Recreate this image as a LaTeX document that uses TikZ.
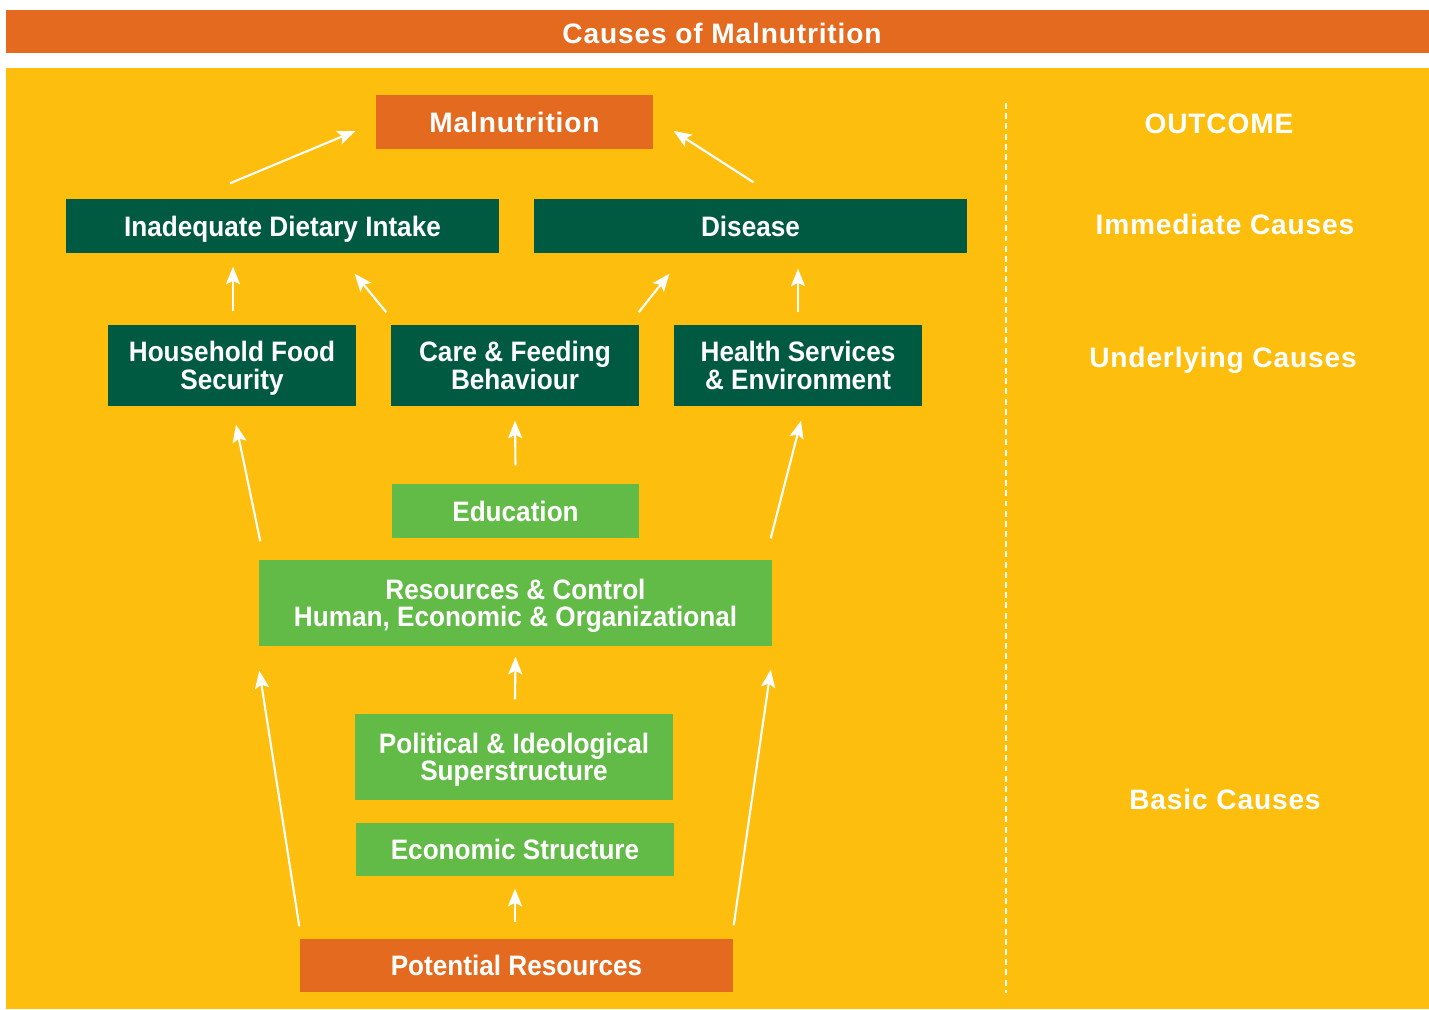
\documentclass[tikz,border=0pt]{standalone}
\usepackage{fontspec}
\setmainfont{Liberation Sans}[LetterSpace=3]
\newfontfamily\boxfont{Liberation Sans}[FakeStretch=0.93]
\usetikzlibrary{calc,arrows.meta}

\definecolor{malorange}{HTML}{E46A1F}
\definecolor{malyellow}{HTML}{FDBE0E}
\definecolor{maldark}{HTML}{005A42}
\definecolor{mallight}{HTML}{62BB46}

\begin{document}
\begin{tikzpicture}[
    font=\fontsize{8}{7.8}\selectfont\bfseries,
    box/.style={rectangle, text=white, align=center, inner sep=0pt,
      font=\boxfont\fontsize{8}{7.8}\selectfont\bfseries,
      text height=7.3pt, text depth=1.5pt},
    twoline/.style={box, text height=14.98pt, text depth=1.5pt},
    arr/.style={white, line width=0.6pt, -{Stealth[length=5pt,width=4pt,inset=1pt]}},
    side/.style={text=white}
  ]
    \useasboundingbox (0,0) rectangle (14.29,-10.09);

    % banner and panel
    \fill[malorange] (0.06,-0.10) rectangle (14.29,-0.53);
    \node[side] (title) at (7.22,-0.33) {Causes of Malnutrition};
    \fill[malyellow] (0.06,-0.68) rectangle (14.29,-10.09);
    \draw[white, line width=0.55pt, dash pattern=on 1.7pt off 1.2pt] (10.06,-1.03) -- (10.06,-9.93);

    % outcome and immediate causes
    \node[box, font=\fontsize{8}{7.8}\selectfont\bfseries, fill=malorange, minimum width=2.77cm, minimum height=0.54cm] (mal) at (5.145,-1.22) {Malnutrition};
    \node[box, fill=maldark, minimum width=4.33cm, minimum height=0.54cm] (inad) at (2.825,-2.26) {Inadequate Dietary Intake};
    \node[box, fill=maldark, minimum width=4.33cm, minimum height=0.54cm] (dis) at (7.505,-2.26) {Disease};

    % underlying causes
    \node[twoline, fill=maldark, minimum width=2.48cm, minimum height=0.81cm] (house) at (2.32,-3.655) {Household Food\\Security};
    \node[twoline, fill=maldark, minimum width=2.48cm, minimum height=0.81cm] (care) at (5.15,-3.655) {Care \& Feeding\\Behaviour};
    \node[twoline, fill=maldark, minimum width=2.48cm, minimum height=0.81cm] (health) at (7.98,-3.655) {Health Services\\\& Environment};

    % basic causes
    \node[box, fill=mallight, minimum width=2.47cm, minimum height=0.54cm] (edu) at (5.155,-5.11) {Education};
    \node[twoline, fill=mallight, minimum width=5.13cm, minimum height=0.86cm] (res) at (5.155,-6.03) {Resources \& Control\\Human, Economic \& Organizational};
    \node[twoline, fill=mallight, minimum width=3.18cm, minimum height=0.86cm] (pol) at (5.14,-7.57) {Political \& Ideological\\Superstructure};
    \node[box, fill=mallight, minimum width=3.18cm, minimum height=0.53cm] (eco) at (5.15,-8.495) {Economic Structure};
    \node[box, fill=malorange, minimum width=4.33cm, minimum height=0.53cm] (pot) at (5.165,-9.655) {Potential Resources};

    % level labels
    \node[side] (lout) at (12.19,-1.24) {OUTCOME};
    \node[side] (limm) at (12.25,-2.24) {Immediate Causes};
    \node[side] (lund) at (12.23,-3.60) {Underlying Causes};
    \node[side] (lbas) at (12.25,-7.99) {Basic Causes};

    % arrows
    \draw[arr] ($(inad.north)+(-0.525,0.15)$) -- ($(mal.west)+(-0.2,-0.09)$);
    \draw[arr] ($(dis.north)+(0.03,0.16)$) -- ($(mal.east)+(0.2,-0.09)$);
    \draw[arr] ($(house.north)+(0.01,0.13)$) -- ($(house.north |- inad.south)+(0.01,-0.13)$);
    \draw[arr] ($(care.north west)+(-0.04,0.12)$) -- ($(inad.south east)+(-1.45,-0.2)$);
    \draw[arr] ($(care.north east)+(-0.01,0.12)$) -- ($(dis.south west)+(1.36,-0.2)$);
    \draw[arr] ($(health.north)+(0,0.12)$) -- ($(health.north |- dis.south)+(0,-0.15)$);
    \draw[arr] ($(res.north west)+(0.02,0.18)$) -- ($(house.south)+(0.04,-0.18)$);
    \draw[arr] ($(edu.north)+(0,0.18)$) -- ($(care.south)+(0,-0.14)$);
    \draw[arr] ($(res.north east)+(-0.02,0.21)$) -- ($(health.south)+(0.03,-0.14)$);
    \draw[arr] ($(pot.north west)+(0,0.12)$) -- ($(res.south west)+(0.01,-0.24)$);
    \draw[arr] ($(pol.north)+(0.01,0.14)$) -- ($(res.south)+(0,-0.10)$);
    \draw[arr] ($(pot.north east)+(0,0.13)$) -- ($(res.south east)+(-0.02,-0.23)$);
    \draw[arr] ($(pot.north)+(-0.015,0.16)$) -- ($(eco.south)+(0,-0.12)$);
\end{tikzpicture}
\end{document}
